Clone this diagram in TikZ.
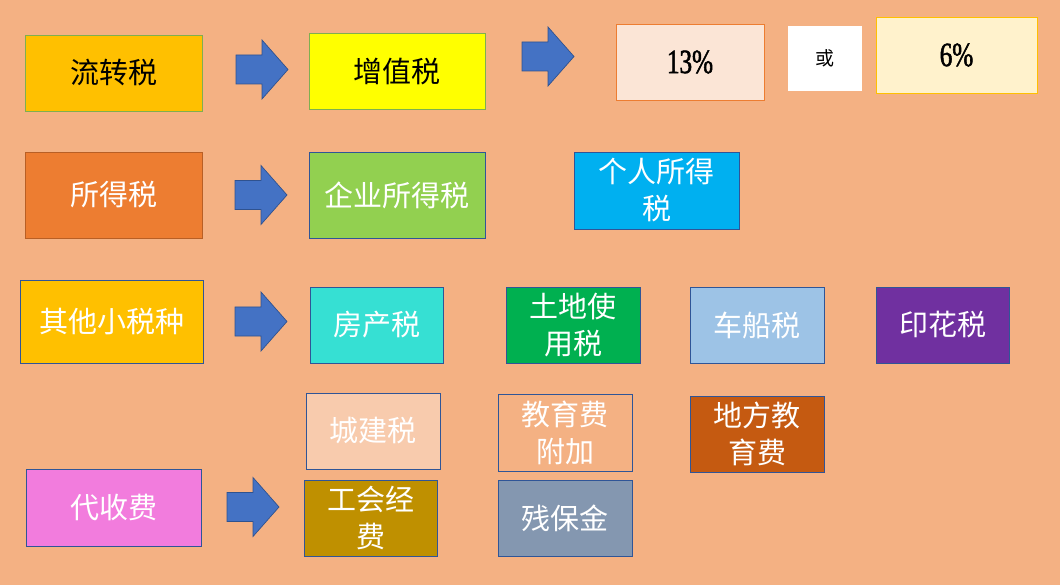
\documentclass[tikz,border=0pt]{standalone}
\usepackage{fontspec}
\setmainfont{Liberation Serif}
\newfontfamily\cjk{Noto Sans CJK SC}
\newfontfamily\numfont[FakeStretch=0.74,FakeBold=1.6]{Liberation Serif}
\definecolor{bg}{HTML}{F4B183}
\definecolor{arrowfill}{HTML}{4472C4}
\definecolor{arrowline}{HTML}{2F528F}
\definecolor{bluebd}{HTML}{2F5597}
\definecolor{greenbd}{HTML}{7FAF4F}
\definecolor{c1}{HTML}{FFC000}
\definecolor{c2}{HTML}{FFFF00}
\definecolor{c3}{HTML}{FBE5D6}
\definecolor{c3bd}{HTML}{ED7D31}
\definecolor{c5}{HTML}{FFF2CC}
\definecolor{c6}{HTML}{ED7D31}
\definecolor{c6bd}{HTML}{B85F25}
\definecolor{c7}{HTML}{92D050}
\definecolor{c8}{HTML}{00B0F0}
\definecolor{c10}{HTML}{36E0D3}
\definecolor{c11}{HTML}{00B050}
\definecolor{c12}{HTML}{9DC3E6}
\definecolor{c13}{HTML}{7030A0}
\definecolor{c14}{HTML}{F8CBAD}
\definecolor{c15}{HTML}{F4B183}
\definecolor{c16}{HTML}{C55A11}
\definecolor{c17}{HTML}{F27CDD}
\definecolor{c18}{HTML}{BF9000}
\definecolor{c19}{HTML}{8497B0}
\tikzset{
  box/.style={draw=bluebd, line width=0.8pt, inner sep=0pt, align=center,
    text=white, font=\cjk\fontsize{29}{37}\selectfont},
  darktext/.style={text=black},
  barrow/.style={fill=arrowfill, draw=arrowline, line width=0.7pt, line join=miter},
}
\begin{document}
\begin{tikzpicture}[x=1pt,y=-1pt]
\fill[bg] (0,0) rectangle (1060,585);
\useasboundingbox (0,0) rectangle (1060,585);

% row 1
\node[box, darktext, draw=greenbd, fill=c1, minimum width=177pt, minimum height=76pt] (lz) at (113.5,73) {流转税};
\node[box, darktext, draw=greenbd, fill=c2, minimum width=176pt, minimum height=76pt] (zz) at (397,71) {增值税};
\node[box, darktext, draw=c3bd, fill=c3, minimum width=148pt, minimum height=76pt, font=\numfont\fontsize{34}{38}\selectfont] (p13) at (690,62) {13\%};
\node[box, darktext, draw=none, fill=white, minimum width=74pt, minimum height=65pt, font=\cjk\fontsize{19}{22}\selectfont] (or) at (825,58.5) {或};
\node[box, darktext, draw=c1, fill=c5, minimum width=161pt, minimum height=76pt, font=\numfont\fontsize{34}{38}\selectfont] (p6) at (956.5,55) {6\%};

% row 2
\node[box, draw=c6bd, fill=c6, minimum width=177pt, minimum height=86pt] (sd) at (113.5,195) {所得税};
\node[box, fill=c7, minimum width=176pt, minimum height=86pt] (qy) at (397,195) {企业所得税};
\node[box, fill=c8, minimum width=165pt, minimum height=77pt] (gr) at (656.5,190.5) {个人所得\\税};

% row 3
\node[box, fill=c1, minimum width=183pt, minimum height=83pt] (qt) at (111.5,321.5) {其他小税种};
\node[box, fill=c10, minimum width=133pt, minimum height=76pt] (fc) at (376.5,325) {房产税};
\node[box, fill=c11, minimum width=134pt, minimum height=76pt] (td) at (573,325) {土地使\\用税};
\node[box, fill=c12, minimum width=134pt, minimum height=76pt] (cc) at (757,325) {车船税};
\node[box, fill=c13, minimum width=133pt, minimum height=76pt] (yh) at (942.5,325) {印花税};

% row 4
\node[box, fill=c14, minimum width=134pt, minimum height=76pt] (cj) at (373,431) {城建税};
\node[box, fill=c15, minimum width=134pt, minimum height=77pt] (jy) at (565,432.5) {教育费\\附加};
\node[box, fill=c16, minimum width=134pt, minimum height=76pt] (df) at (757,434) {地方教\\育费};

% row 5
\node[box, fill=c17, minimum width=175pt, minimum height=77pt] (ds) at (113.5,507.5) {代收费};
\node[box, fill=c18, minimum width=133pt, minimum height=76pt] (gh) at (370.5,518) {工会经\\费};
\node[box, fill=c19, minimum width=134pt, minimum height=76pt] (cb) at (565,518) {残保金};

% block arrows
\foreach \ax/\ay in {236/69.5, 522/56.5, 235/195, 235/321.5, 227/507}{
  \draw[barrow, shift={(\ax,\ay)}] (0,-14.5) -- (26,-14.5) -- (26,-29.5) -- (52,0)
     -- (26,29.5) -- (26,14.5) -- (0,14.5) -- cycle;
}
\end{tikzpicture}
\end{document}
